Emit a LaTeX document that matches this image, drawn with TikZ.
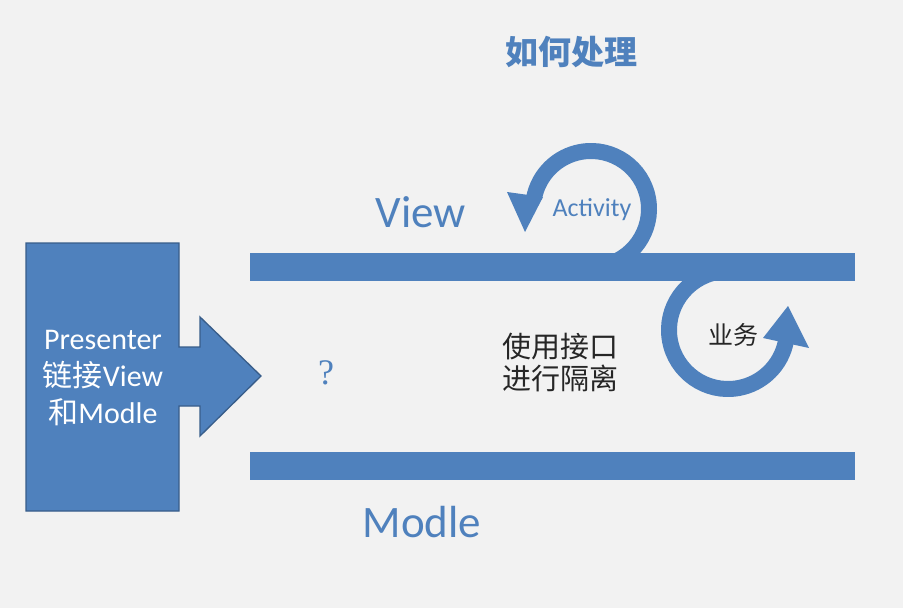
\documentclass[tikz,border=0pt]{standalone}
\usepackage{fontspec}
\setmainfont{Carlito}
\newfontfamily\cjk{Noto Sans CJK SC}
\newfontfamily\qmark{Liberation Serif}
\definecolor{pptblue}{HTML}{4F81BD}
\definecolor{pptedge}{HTML}{385D8A}
\definecolor{slide}{HTML}{F2F2F2}
\definecolor{ink}{HTML}{262626}
\begin{document}
\begin{tikzpicture}[x=0.75pt, y=0.75pt,
    ring/.style={line width=12pt, draw=pptblue},
    head/.style={fill=pptblue},
    bar/.style={fill=pptblue}]
    \fill[slide] (0,0) rectangle (903,608);
        \draw[fill=pptblue, draw=pptedge, line width=1pt] (26,365) -- (179,365) -- (179,261) -- (200,261) -- (200,291)
            -- (261,232) -- (200,172) -- (200,202) -- (179,202) -- (179,97) -- (26,97) -- cycle;
        \coordinate (actc) at (591,399);
        \coordinate (bizc) at (728,278);
        \draw[ring] (actc) ++(-80:58) arc[start angle=-80, end angle=169, radius=58];
        \fill[head] (507,416) -- (525,376) -- (543,411) -- cycle;
        \draw[ring] (bizc) ++(100:59) arc[start angle=100, end angle=349, radius=59];
        \fill[head] (763,270) -- (788,302) -- (809,260) -- cycle;
        \fill[bar] (250,327) rectangle (855,355);
        \fill[bar] (250,128) rectangle (855,156);
        \node[text=white, align=center, font=\fontsize{22.5}{27.75}\selectfont] (presenter) at (103,230)
            {Presenter\\{\cjk 链接}View\\{\cjk 和}Modle};
        \node[text=pptblue, font=\cjk\bfseries\fontsize{24.75}{30}\selectfont] (title) at (571,556) {如何处理};
        \node[text=pptblue, anchor=base, font=\fontsize{33.75}{40}\selectfont] (view) at (421,381) {View};
        \node[text=pptblue, anchor=base, font=\fontsize{33.75}{40}\selectfont] (modle) at (422,71) {Modle};
        \node[text=pptblue, anchor=base, font=\fontsize{19.5}{24}\selectfont] (activity) at (592,391) {Activity};
        \node[text=ink, font=\cjk\fontsize{18.75}{22}\selectfont] (biz) at (733,273) {业务};
        \node[text=ink, align=center, font=\cjk\fontsize{21.75}{24}\selectfont] (iface) at (560,246) {使用接口\\进行隔离};
        \node[text=pptblue, font=\qmark\fontsize{27}{30}\selectfont] (ask) at (326,235) {?};
    \end{tikzpicture}
\end{document}
